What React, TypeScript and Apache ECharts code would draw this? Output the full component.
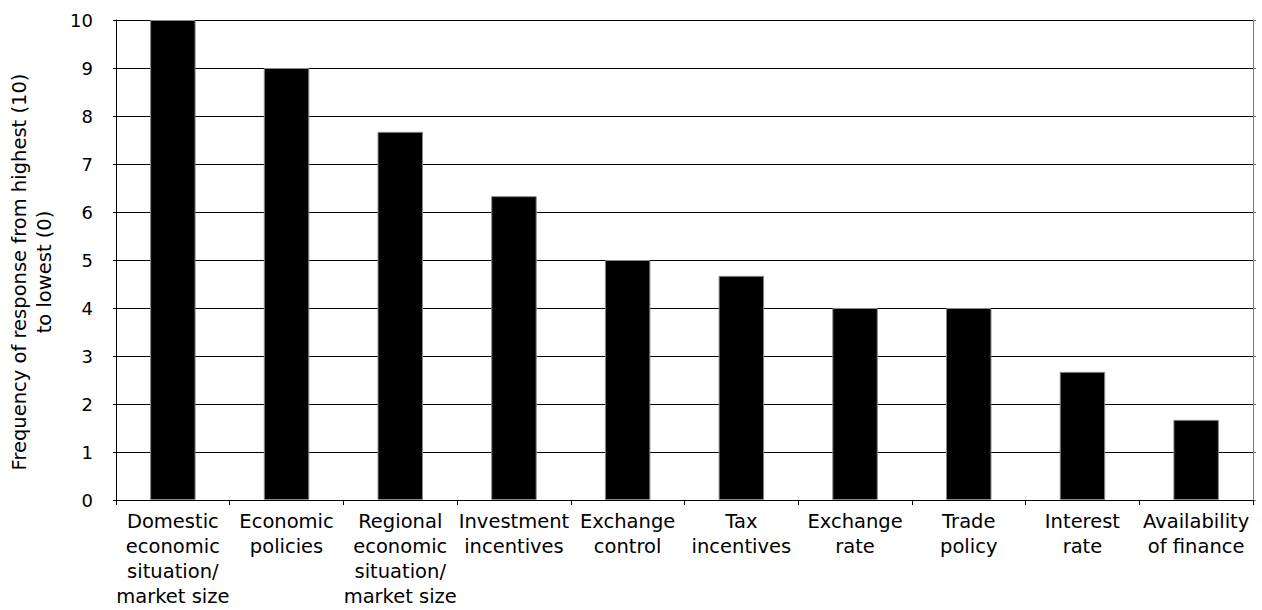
import React, { useEffect, useRef } from "react";
import * as echarts from "echarts";

const categories = [
  "Domestic\neconomic\nsituation/\nmarket size",
  "Economic\npolicies",
  "Regional\neconomic\nsituation/\nmarket size",
  "Investment\nincentives",
  "Exchange\ncontrol",
  "Tax\nincentives",
  "Exchange\nrate",
  "Trade\npolicy",
  "Interest\nrate",
  "Availability\nof finance",
];

const frequency = [10, 9, 7.67, 6.33, 5, 4.67, 4, 4, 2.67, 1.67];

const yTitle = "Frequency of response from highest (10)\nto lowest (0)";

const FONT = "'DejaVu Sans', 'Open Sans', sans-serif";

export default function App() {
  const ref = useRef<HTMLDivElement>(null);

  useEffect(() => {
    if (!ref.current) return;
    const chart = echarts.init(ref.current, null, { renderer: "svg" });
    chart.setOption({
      animation: false,
      backgroundColor: "#ffffff",
      textStyle: { fontFamily: FONT, color: "#000" },
      grid: { left: 116, right: 9, top: 20, bottom: 110, containLabel: false },
      graphic: [
        {
          type: "text",
          x: 32,
          y: 272,
          rotation: Math.PI / 2,
          style: {
            text: yTitle,
            fill: "#000",
            font: `19.5px ${FONT}`,
            lineHeight: 25,
            align: "center",
            verticalAlign: "middle",
          },
        },
      ],
      xAxis: {
        type: "category",
        data: categories,
        boundaryGap: true,
        axisLine: { show: true, lineStyle: { color: "#000", width: 1 } },
        axisTick: { show: true, length: 5, lineStyle: { color: "#000" } },
        axisLabel: {
          interval: 0,
          color: "#000",
          fontFamily: FONT,
          fontSize: 19.5,
          lineHeight: 25,
          margin: 9,
        },
      },
      yAxis: [
        {
          type: "value",
          min: 0,
          max: 10,
          interval: 1,
          axisLine: { show: true, lineStyle: { color: "#000", width: 1 } },
          axisTick: { show: true, length: 3, lineStyle: { color: "#000" } },
          axisLabel: {
            color: "#000",
            fontFamily: FONT,
            fontSize: 18,
            margin: 23,
            padding: [0, 0, 6, 0],
          },
          splitLine: { show: true, lineStyle: { color: "#000", width: 1 } },
        },
        {
          type: "value",
          min: 0,
          max: 10,
          interval: 1,
          position: "right",
          axisLine: { show: true, lineStyle: { color: "#777", width: 1 } },
          axisTick: { show: true, length: 3, lineStyle: { color: "#777" } },
          axisLabel: { show: false },
          splitLine: { show: false },
        },
      ],
      series: [
        {
          type: "bar",
          data: frequency,
          yAxisIndex: 0,
          barWidth: "40%",
          itemStyle: { color: "#000", borderColor: "#888", borderWidth: 1 },
        },
      ],
    });
    return () => chart.dispose();
  }, []);

  return (
    <div
      ref={ref}
      style={{ position: "fixed", left: 0, top: 0, width: 1262, height: 610, background: "#fff" }}
    />
  );
}
